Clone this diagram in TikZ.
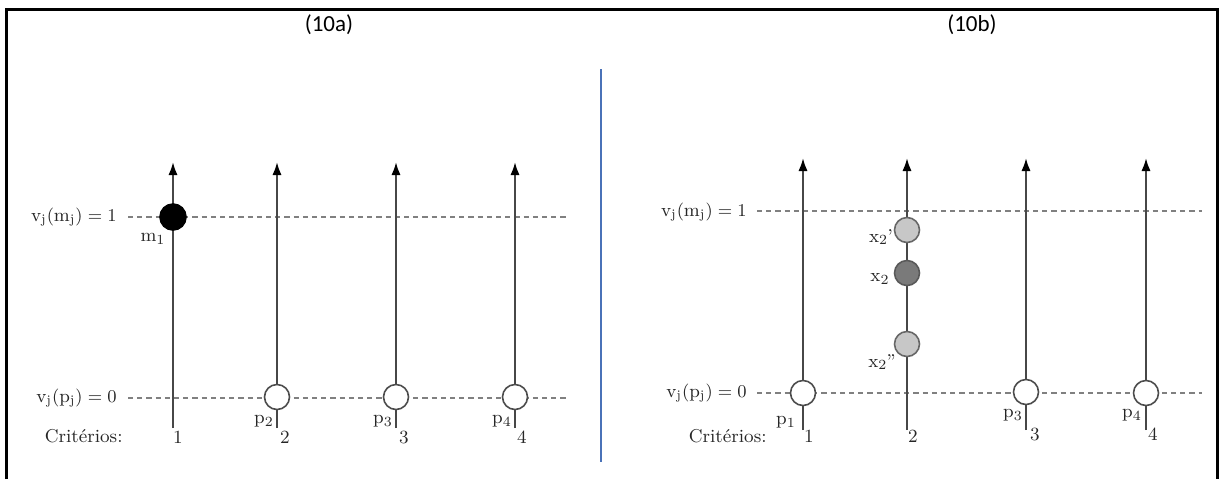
\documentclass[tikz,border=0pt]{standalone}
\usepackage{fontspec}
\newfontfamily\titlefont{Carlito}
\usetikzlibrary{arrows.meta}
\begin{document}
\begin{tikzpicture}[x=0.5pt,y=-0.5pt,
  axisline/.style={draw=black!72, line width=1pt, -{Latex[length=6.5pt,width=4.6pt,color=black]}},
  level/.style={draw=black!50, line width=0.75pt, dash pattern=on 2.6pt off 2pt},
  pt/.style={circle, draw=black!70, line width=0.8pt, fill=white, minimum size=12.5pt, inner sep=0pt},
  ptblack/.style={pt, fill=black, draw=black, minimum size=13pt},
  ptlight/.style={pt, fill=black!22, draw=black!60},
  ptdark/.style={pt, fill=black!52, draw=black!65},
  lbl/.style={font=\fontsize{9.3}{10}\selectfont, text=black!85, inner sep=0pt},
  ttl/.style={font=\titlefont\fontsize{11.5}{13}\selectfont, inner sep=0pt},
  frame/.style={draw=black, line width=1.5pt},
  divider/.style={draw={rgb,255:red,74;green,114;blue,184}, line width=1pt}
]
\useasboundingbox (0,0) rectangle (1219,479);
% frame
\coordinate (f1) at (6,479); \coordinate (f2) at (6,9);
\coordinate (f3) at (1217,9); \coordinate (f4) at (1217,479);
\draw[frame] (f1) -- (f2) -- (f3) -- (f4);
% divider
\coordinate (d1) at (601,69); \coordinate (d2) at (601,462);
\draw[divider] (d1) -- (d2);
% titles
\node[ttl] (ta) at (329,25) {(10a)};
\node[ttl] (tb) at (972,25) {(10b)};

% ===== left panel =====
\coordinate (Lt1) at (128,217); \coordinate (Lt2) at (568,217);
\coordinate (Lb1) at (128,398); \coordinate (Lb2) at (568,398);
\draw[level] (Lt1) -- (Lt2);
\draw[level] (Lb1) -- (Lb2);
\foreach \i/\x in {1/173,2/277,3/396,4/515}{
  \coordinate (La\i b) at (\x,428);
  \coordinate (La\i t) at (\x,162);
  \draw[axisline] (La\i b) -- (La\i t);
}
\node[ptblack] (m1) at (173,217) {};
\node[pt] (lp2) at (277,397) {};
\node[pt] (lp3) at (396,397) {};
\node[pt] (lp4) at (515,397) {};
\node[lbl] (m1l) at (153,239) {$\mathrm{m}_1$};
\node[lbl] (lp2l) at (264,421) {$\mathrm{p}_2$};
\node[lbl] (lp3l) at (383,421) {$\mathrm{p}_3$};
\node[lbl] (lp4l) at (502,421) {$\mathrm{p}_4$};
\node[lbl] (ln1) at (178,437) {1};
\node[lbl] (ln2) at (285,437) {2};
\node[lbl] (ln3) at (404,437) {3};
\node[lbl] (ln4) at (522,437) {4};
\node[lbl, anchor=east] (lv1) at (117,217) {$\mathrm{v}_{\mathrm{j}}(\mathrm{m}_{\mathrm{j}}) = 1$};
\node[lbl, anchor=east] (lv0) at (117,398) {$\mathrm{v}_{\mathrm{j}}(\mathrm{p}_{\mathrm{j}}) = 0$};
\node[lbl, anchor=east] (lcr) at (123,436) {Critérios:};

% ===== right panel =====
\coordinate (Rt1) at (757,211); \coordinate (Rt2) at (1202,211);
\coordinate (Rb1) at (757,393); \coordinate (Rb2) at (1202,393);
\draw[level] (Rt1) -- (Rt2);
\draw[level] (Rb1) -- (Rb2);
\foreach \i/\x in {1/803,2/907,3/1026,4/1146}{
  \coordinate (Ra\i b) at (\x,430);
  \coordinate (Ra\i t) at (\x,158);
  \draw[axisline] (Ra\i b) -- (Ra\i t);
}
\node[pt] (rp1) at (803,393) {};
\node[pt] (rp3) at (1026,392) {};
\node[pt] (rp4) at (1146,393) {};
\node[ptlight] (x2a) at (907,230) {};
\node[ptdark] (x2) at (907,273) {};
\node[ptlight] (x2b) at (907,344) {};
\node[lbl] (x2al) at (881,237) {$\mathrm{x}_2$\kern-0.3pt’};
\node[lbl] (x2l) at (880,279) {$\mathrm{x}_2$};
\node[lbl] (x2bl) at (882,362) {$\mathrm{x}_2$\kern-0.3pt”};
\node[lbl] (rp1l) at (786,422) {$\mathrm{p}_1$};
\node[lbl] (rp3l) at (1013,415) {$\mathrm{p}_3$};
\node[lbl] (rp4l) at (1132,415) {$\mathrm{p}_4$};
\node[lbl] (rn1) at (809,436) {1};
\node[lbl] (rn2) at (913,436) {2};
\node[lbl] (rn3) at (1035,434) {3};
\node[lbl] (rn4) at (1153,434) {4};
\node[lbl, anchor=east] (rv1) at (747,212) {$\mathrm{v}_{\mathrm{j}}(\mathrm{m}_{\mathrm{j}}) = 1$};
\node[lbl, anchor=east] (rv0) at (747,393) {$\mathrm{v}_{\mathrm{j}}(\mathrm{p}_{\mathrm{j}}) = 0$};
\node[lbl, anchor=east] (rcr) at (767,436) {Critérios:};
\end{tikzpicture}
\end{document}
